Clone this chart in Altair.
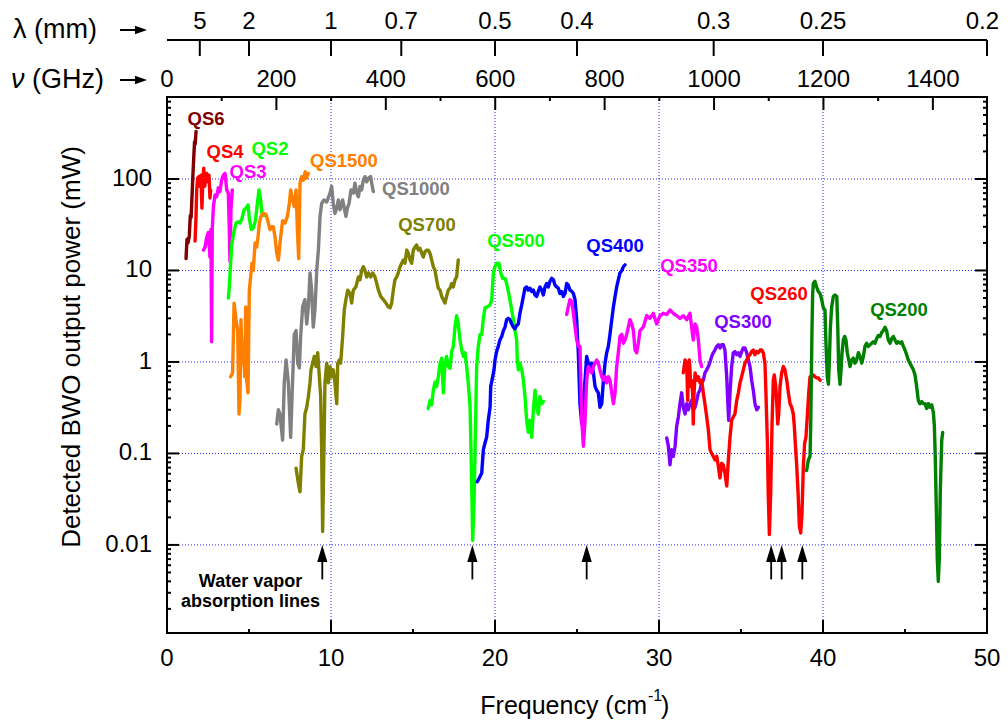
import altair as alt
import pandas as pd

FONT = "Liberation Sans"
W, H = 820, 536

# ---------------- data (x in cm^-1, y in mW) ----------------
qs6 = [(1.16, 13.5), (1.22, 22), (1.28, 20), (1.36, 24), (1.42, 40), (1.47, 38), (1.52, 62),
       (1.58, 110), (1.63, 170), (1.68, 255), (1.72, 240), (1.77, 330)]
qs4 = [(1.71, 21), (1.77, 39), (1.81, 76), (1.87, 102), (1.95, 106), (2.01, 83), (2.07, 110),
       (2.13, 48), (2.18, 90), (2.24, 131), (2.30, 83), (2.36, 102), (2.42, 115), (2.50, 93),
       (2.56, 110), (2.62, 62), (2.66, 76)]
qs3 = [(2.22, 16.7), (2.32, 18), (2.42, 23), (2.52, 26), (2.62, 14), (2.68, 28), (2.72, 1.66),
       (2.76, 28), (2.83, 50), (2.93, 67), (3.03, 64), (3.13, 80), (3.23, 73), (3.33, 97),
       (3.44, 110), (3.54, 115), (3.64, 76), (3.74, 70), (3.80, 28), (3.84, 12.5), (3.90, 46), (3.98, 76)]
qs2 = [(3.74, 5.0), (3.80, 6.6), (3.88, 12), (3.96, 20), (4.09, 27), (4.21, 33), (4.33, 34),
       (4.45, 33), (4.57, 37), (4.70, 46), (4.82, 48), (4.94, 52), (5.02, 37), (5.14, 28),
       (5.26, 29), (5.39, 35), (5.51, 54), (5.61, 76), (5.71, 59), (5.79, 42), (5.90, 40)]
qs1500 = [(3.88, 0.69), (4.00, 0.76), (4.09, 4.4), (4.21, 2.9), (4.31, 2.2), (4.39, 0.27),
          (4.45, 0.38), (4.51, 2.9), (4.59, 0.97), (4.65, 1.6), (4.74, 0.69), (4.80, 4.0),
          (4.86, 0.63), (4.94, 0.46), (5.02, 6.1), (5.10, 8.5), (5.18, 12), (5.26, 10),
          (5.37, 20), (5.47, 18), (5.55, 23), (5.63, 33), (5.73, 39), (5.87, 42), (6.04, 41),
          (6.18, 33), (6.28, 28), (6.38, 30), (6.48, 30), (6.59, 23), (6.69, 15.5), (6.79, 13),
          (6.89, 20), (7.05, 35), (7.20, 33), (7.34, 39), (7.46, 54), (7.54, 76), (7.66, 59),
          (7.76, 50), (7.87, 76), (7.95, 28), (8.03, 13.5), (8.11, 90), (8.21, 106), (8.31, 97),
          (8.43, 120), (8.50, 102), (8.62, 115)]
qs1000 = [(6.69, 0.21), (6.79, 0.30), (6.89, 0.27), (7.05, 0.14), (7.15, 0.59), (7.26, 1.05),
          (7.40, 0.59), (7.54, 0.15), (7.66, 0.63), (7.76, 2.0), (7.87, 2.2), (7.97, 0.97),
          (8.07, 0.86), (8.15, 1.9), (8.27, 4.0), (8.41, 4.8), (8.52, 2.6), (8.62, 4.0),
          (8.72, 9.4), (8.82, 6.1), (8.92, 2.4), (9.02, 3.7), (9.13, 10), (9.23, 16.7),
          (9.33, 39), (9.43, 54), (9.57, 59), (9.74, 56), (9.86, 64), (9.94, 70), (10.04, 83),
          (10.14, 54), (10.24, 42), (10.35, 48), (10.45, 59), (10.55, 46), (10.71, 59),
          (10.81, 48), (10.91, 39), (11.00, 48), (11.10, 54), (11.22, 76), (11.36, 70),
          (11.46, 90), (11.57, 70), (11.67, 64), (11.77, 83), (11.87, 76), (11.97, 97),
          (12.07, 106), (12.18, 93), (12.28, 102), (12.42, 106), (12.48, 90), (12.58, 73)]
qs700 = [(7.87, 0.069), (8.01, 0.047), (8.11, 0.038), (8.21, 0.093), (8.31, 0.11), (8.41, 0.27),
         (8.52, 0.32), (8.62, 0.42), (8.72, 0.59), (8.78, 0.82), (8.88, 0.97), (8.98, 1.15),
         (9.09, 0.89), (9.19, 1.26), (9.29, 0.69), (9.37, 0.42), (9.43, 0.11), (9.49, 0.014),
         (9.57, 0.11), (9.63, 0.59), (9.74, 0.97), (9.84, 0.59), (9.94, 0.89), (10.04, 0.69),
         (10.14, 0.82), (10.24, 0.59), (10.35, 0.35), (10.41, 0.97), (10.51, 1.05), (10.59, 0.97),
         (10.71, 1.9), (10.81, 3.7), (10.91, 4.8), (11.02, 6.1), (11.16, 5.6), (11.26, 4.4),
         (11.36, 6.1), (11.52, 6.6), (11.67, 8.5), (11.77, 7.9), (11.87, 10), (11.97, 11),
         (12.07, 10), (12.18, 8.5), (12.28, 9.4), (12.42, 8.5), (12.54, 9.4), (12.68, 8.5),
         (12.79, 7.2), (12.89, 6.1), (13.03, 5.2), (13.19, 4.8), (13.35, 4.4), (13.49, 4.0),
         (13.60, 3.9), (13.70, 4.4), (13.80, 6.1), (13.90, 7.9), (14.01, 8.5), (14.10, 9.4),
         (14.21, 11), (14.31, 12), (14.41, 13), (14.51, 12), (14.62, 16.7), (14.72, 15.4),
         (14.82, 13), (14.92, 12), (15.02, 16.7), (15.12, 18), (15.22, 19), (15.32, 16.7),
         (15.43, 17.5), (15.53, 15.4), (15.63, 14), (15.73, 16), (15.83, 16.7), (15.93, 16.7),
         (16.04, 15.4), (16.14, 13), (16.24, 11), (16.34, 10), (16.44, 7.9), (16.54, 6.4),
         (16.65, 6.1), (16.75, 5.2), (16.85, 4.8), (16.95, 4.4), (17.05, 5.2), (17.15, 6.1),
         (17.26, 6.4), (17.36, 7.2), (17.46, 6.6), (17.56, 7.9), (17.66, 8.5), (17.76, 13)]
qs500 = [(15.93, 0.31), (16.04, 0.38), (16.14, 0.34), (16.24, 0.49), (16.34, 0.60), (16.44, 0.54),
         (16.54, 0.69), (16.65, 0.97), (16.75, 1.1), (16.85, 0.46), (16.95, 0.97), (17.05, 1.15),
         (17.15, 0.89), (17.26, 0.85), (17.36, 1.3), (17.46, 1.48), (17.56, 2.4), (17.66, 3.2),
         (17.76, 2.6), (17.87, 1.74), (17.97, 1.35), (18.07, 1.15), (18.17, 1.26), (18.27, 0.89),
         (18.37, 0.59), (18.48, 0.32), (18.54, 0.10), (18.60, 0.029), (18.64, 0.0112),
         (18.72, 0.029), (18.80, 0.15), (18.88, 0.89), (18.98, 1.48), (19.09, 2.0), (19.19, 2.0),
         (19.29, 3.0), (19.39, 3.9), (19.53, 4.0), (19.70, 4.2), (19.80, 4.8), (19.90, 9.4),
         (20.00, 11), (20.10, 12), (20.24, 12), (20.35, 9.4), (20.47, 8.2), (20.61, 8.2),
         (20.71, 7.2), (20.81, 5.9), (20.91, 4.8), (21.02, 3.7), (21.12, 2.9), (21.22, 2.2),
         (21.32, 1.74), (21.36, 1.05), (21.42, 0.82), (21.52, 0.97), (21.63, 0.82), (21.73, 0.63),
         (21.83, 0.42), (21.93, 0.23), (22.03, 0.17), (22.13, 0.23), (22.24, 0.15), (22.34, 0.30),
         (22.44, 0.49), (22.54, 0.32), (22.64, 0.27), (22.74, 0.42), (22.85, 0.35), (22.95, 0.37)]
qs400 = [(18.92, 0.049), (19.09, 0.056), (19.19, 0.061), (19.29, 0.11), (19.39, 0.13), (19.49, 0.15),
         (19.59, 0.23), (19.70, 0.32), (19.74, 0.54), (19.86, 0.69), (19.94, 0.82), (20.00, 1.05),
         (20.10, 1.3), (20.20, 1.48), (20.30, 1.74), (20.41, 1.9), (20.51, 2.2), (20.61, 2.4),
         (20.71, 2.9), (20.81, 3.0), (20.91, 2.9), (21.02, 2.6), (21.12, 2.4), (21.22, 2.3),
         (21.32, 2.5), (21.42, 2.6), (21.52, 3.4), (21.63, 4.2), (21.73, 5.2), (21.83, 6.4),
         (21.93, 6.6), (22.03, 6.1), (22.13, 6.4), (22.24, 5.9), (22.34, 6.1), (22.44, 5.4),
         (22.54, 5.2), (22.64, 5.9), (22.74, 6.6), (22.85, 6.1), (22.95, 5.4), (23.05, 6.6),
         (23.15, 7.2), (23.25, 6.6), (23.35, 7.6), (23.46, 8.2), (23.56, 7.9), (23.66, 6.9),
         (23.76, 6.6), (23.86, 6.4), (23.96, 5.6), (24.07, 5.9), (24.17, 5.2), (24.27, 5.6),
         (24.37, 7.2), (24.47, 6.9), (24.57, 6.1), (24.68, 5.9), (24.78, 5.6), (24.88, 4.8),
         (24.98, 2.9), (25.08, 1.26), (25.18, 0.35), (25.29, 0.21), (25.39, 0.38), (25.49, 0.63),
         (25.59, 1.15), (25.69, 0.97), (25.79, 0.89), (25.90, 0.97), (26.00, 0.76), (26.10, 0.54),
         (26.20, 0.49), (26.30, 0.46), (26.40, 0.32), (26.51, 0.35), (26.61, 0.63), (26.71, 0.97),
         (26.81, 1.26), (26.91, 1.48), (27.01, 2.0), (27.12, 2.9), (27.22, 4.0), (27.32, 5.2),
         (27.42, 6.6), (27.52, 7.9), (27.62, 9.4), (27.73, 10), (27.83, 11), (27.93, 11.5)]
qs350 = [(24.37, 3.3), (24.47, 4.0), (24.57, 4.8), (24.68, 4.6), (24.78, 3.4), (24.88, 2.4),
         (24.98, 1.74), (25.08, 1.48), (25.18, 1.48), (25.29, 0.23), (25.39, 0.12), (25.49, 0.23),
         (25.59, 0.63), (25.69, 0.89), (25.79, 0.82), (25.90, 0.76), (26.00, 0.89), (26.10, 0.97),
         (26.20, 1.05), (26.30, 0.97), (26.40, 0.82), (26.51, 0.69), (26.61, 0.63), (26.71, 0.69),
         (26.81, 0.59), (26.91, 0.69), (27.01, 0.63), (27.12, 0.46), (27.22, 0.35), (27.32, 0.46),
         (27.42, 0.89), (27.52, 1.26), (27.62, 1.9), (27.73, 2.0), (27.83, 1.6), (27.93, 1.74),
         (28.03, 2.0), (28.13, 2.4), (28.23, 2.9), (28.34, 2.6), (28.44, 2.2), (28.54, 1.35),
         (28.64, 1.26), (28.74, 1.6), (28.84, 2.2), (29.04, 2.4), (29.25, 3.2), (29.45, 3.0),
         (29.65, 3.4), (29.86, 2.6), (30.06, 3.2), (30.26, 3.4), (30.47, 3.3), (30.67, 3.7),
         (30.87, 3.4), (31.08, 3.2), (31.28, 3.0), (31.48, 3.2), (31.69, 2.9), (31.89, 3.4),
         (31.99, 2.4), (32.09, 1.74), (32.20, 2.6), (32.30, 2.4), (32.40, 1.74), (32.50, 1.05),
         (32.60, 0.89)]
qs300 = [(30.47, 0.148), (30.57, 0.12), (30.67, 0.075), (30.77, 0.11), (30.87, 0.093), (30.98, 0.12),
         (31.08, 0.20), (31.18, 0.25), (31.28, 0.35), (31.38, 0.46), (31.48, 0.32), (31.59, 0.27),
         (31.69, 0.35), (31.79, 0.30), (31.89, 0.35), (31.99, 0.38), (32.09, 0.30), (32.20, 0.32),
         (32.30, 0.38), (32.40, 0.46), (32.50, 0.49), (32.60, 0.59), (32.70, 0.63), (32.80, 0.76),
         (32.91, 0.82), (33.01, 0.89), (33.11, 1.0), (33.21, 1.15), (33.31, 1.26), (33.41, 1.35),
         (33.52, 1.48), (33.62, 1.54), (33.72, 1.42), (33.82, 1.54), (33.92, 1.54), (34.02, 1.35),
         (34.13, 0.69), (34.19, 0.38), (34.25, 0.23), (34.33, 0.46), (34.43, 0.89), (34.53, 1.26),
         (34.63, 1.3), (34.74, 1.2), (34.84, 1.26), (34.94, 1.15), (35.04, 1.3), (35.14, 1.42),
         (35.24, 1.42), (35.35, 1.26), (35.45, 1.05), (35.55, 0.89), (35.65, 0.63), (35.75, 0.49),
         (35.85, 0.35), (35.96, 0.30), (36.06, 0.32)]
qs260 = [(31.48, 0.76), (31.59, 1.05), (31.69, 0.97), (31.75, 0.38), (31.79, 0.89), (31.85, 1.05),
         (31.89, 0.82), (31.93, 0.54), (31.99, 0.63), (32.05, 0.46), (32.09, 0.21), (32.13, 0.42),
         (32.20, 0.76), (32.30, 0.63), (32.40, 0.69), (32.50, 0.59), (32.60, 0.63), (32.70, 0.46),
         (32.80, 0.35), (32.91, 0.25), (33.01, 0.18), (33.11, 0.11), (33.21, 0.10), (33.31, 0.093),
         (33.41, 0.085), (33.52, 0.093), (33.62, 0.072), (33.72, 0.054), (33.82, 0.078),
         (33.92, 0.075), (34.02, 0.061), (34.13, 0.044), (34.23, 0.085), (34.33, 0.15),
         (34.43, 0.23), (34.53, 0.25), (34.63, 0.27), (34.74, 0.38), (34.84, 0.46), (34.94, 0.59),
         (35.04, 0.69), (35.14, 0.82), (35.24, 0.97), (35.35, 1.05), (35.45, 1.15), (35.55, 1.2),
         (35.65, 1.3), (35.75, 1.35), (35.85, 1.2), (35.96, 1.3), (36.06, 1.26), (36.16, 1.35),
         (36.26, 1.35), (36.36, 1.26), (36.46, 0.97), (36.52, 0.46), (36.61, 0.13), (36.66, 0.037),
         (36.73, 0.013), (36.81, 0.037), (36.89, 0.20), (36.97, 0.63), (37.03, 0.72), (37.12, 0.54),
         (37.18, 0.35), (37.24, 0.21), (37.30, 0.27), (37.38, 0.54), (37.48, 0.76), (37.58, 0.89),
         (37.68, 0.82), (37.79, 0.63), (37.89, 0.46), (37.99, 0.35), (38.09, 0.32), (38.19, 0.27),
         (38.25, 0.20), (38.31, 0.13), (38.40, 0.072), (38.48, 0.037), (38.56, 0.016),
         (38.64, 0.0135), (38.72, 0.022), (38.80, 0.072), (38.88, 0.13), (38.96, 0.15),
         (39.04, 0.25), (39.13, 0.46), (39.21, 0.69), (39.31, 0.69), (39.41, 0.72), (39.51, 0.69),
         (39.61, 0.67), (39.71, 0.67), (39.82, 0.63)]
qs200 = [(39.00, 0.065), (39.11, 0.085), (39.21, 0.093), (39.25, 0.20), (39.29, 0.69), (39.33, 2.4),
         (39.37, 5.6), (39.41, 7.2), (39.51, 7.6), (39.61, 6.6), (39.71, 5.9), (39.82, 5.6),
         (39.92, 4.8), (40.02, 3.9), (40.12, 3.7), (40.18, 1.6), (40.26, 0.69), (40.33, 0.57),
         (40.39, 1.05), (40.45, 2.4), (40.53, 4.0), (40.63, 5.2), (40.73, 5.4), (40.84, 5.2),
         (40.90, 2.4), (40.96, 0.82), (41.04, 0.57), (41.10, 0.82), (41.16, 1.26), (41.24, 1.74),
         (41.32, 1.9), (41.40, 1.74), (41.48, 1.26), (41.57, 1.05), (41.65, 0.89), (41.75, 1.05),
         (41.85, 1.1), (41.95, 0.97), (42.05, 1.05), (42.16, 1.26), (42.26, 1.15), (42.36, 0.97),
         (42.46, 1.15), (42.56, 1.48), (42.66, 1.6), (42.76, 1.48), (42.87, 1.54), (42.97, 1.6),
         (43.07, 1.66), (43.17, 1.6), (43.27, 1.8), (43.37, 1.95), (43.48, 1.9), (43.58, 2.1),
         (43.68, 2.2), (43.78, 2.4), (43.88, 2.2), (43.98, 1.74), (44.09, 1.6), (44.19, 1.8),
         (44.29, 1.9), (44.39, 1.74), (44.49, 1.6), (44.59, 1.66), (44.70, 1.6), (44.80, 1.66),
         (44.90, 1.48), (45.00, 1.35), (45.10, 1.2), (45.20, 1.05), (45.30, 0.97), (45.41, 0.89),
         (45.51, 0.82), (45.61, 0.72), (45.71, 0.54), (45.81, 0.38), (45.91, 0.35), (46.02, 0.37),
         (46.12, 0.35), (46.22, 0.35), (46.32, 0.31), (46.42, 0.35), (46.52, 0.32), (46.63, 0.34),
         (46.73, 0.28), (46.79, 0.20), (46.85, 0.085), (46.91, 0.024), (46.97, 0.0069),
         (47.03, 0.004), (47.09, 0.0069), (47.15, 0.037), (47.24, 0.14), (47.30, 0.17)]

series_names = ["QS6", "QS4", "QS3", "QS2", "QS1500", "QS1000", "QS700", "QS500",
                "QS400", "QS350", "QS300", "QS260", "QS200"]
series_data = [qs6, qs4, qs3, qs2, qs1500, qs1000, qs700, qs500,
               qs400, qs350, qs300, qs260, qs200]

# label anchor points (cm^-1, mW)
label_x = [2.38, 3.54, 4.94, 6.28, 10.79, 15.18, 15.85, 21.28, 27.32, 31.83, 35.12, 37.32, 44.63]
label_y = [453, 197, 119, 213, 157, 78, 31.4, 21, 18.5, 11.2, 2.75, 5.5, 3.7]

# water vapour absorption lines (cm^-1)
water_lines = [9.47, 18.62, 25.59, 36.84, 37.48, 38.74]

# axis ticks and labels
x_major = [0, 10, 20, 30, 40, 50]
x_labels = ["0", "10", "20", "30", "40", "50"]
x_minor = [5, 15, 25, 35, 45]
x_grid = [10, 20, 30, 40]
y_major = [0.01, 0.1, 1, 10, 100]
y_labels = ["0.01", "0.1", "1", "10", "100"]
nu_major = [0, 200, 400, 600, 800, 1000, 1200, 1400]
nu_minor = [100, 300, 500, 700, 900, 1100, 1300]
lam_ticks = [5, 2, 1, 0.7, 0.5, 0.4, 0.3, 0.25, 0.2]
lam_labels = ["5", "2", "1", "0.7", "0.5", "0.4", "0.3", "0.25", "0.2"]

# ---------------- styles ----------------
series_colors = ["#800000", "#ff0000", "#ff00ff", "#00ff00", "#ff8000", "#808080", "#808000",
                 "#00ff00", "#0000ff", "#ff00ff", "#8000ff", "#ff0000", "#008000"]
Y_LO, Y_HI = 0.00109, 787
GHZ_PER_CM = 29.9792458

rows = []
for name, pts in zip(series_names, series_data):
    for i, (a, b) in enumerate(pts):
        rows.append({"series": name, "x": a, "y": b, "i": i})
df = pd.DataFrame(rows)

XS = alt.Scale(domain=[0, 50], nice=False, zero=False)
YS = alt.Scale(type="log", domain=[Y_LO, Y_HI], nice=False)


def xq(field="x"):
    return alt.X(f"{field}:Q", scale=XS, axis=None)


def yq(field="y"):
    return alt.Y(f"{field}:Q", scale=YS, axis=None)


one = pd.DataFrame({"d": [0]})

layers = []

# grid
layers.append(alt.Chart(pd.DataFrame({"x": x_grid})).mark_rule(
    color="#0000ff", strokeWidth=1, strokeDash=[1, 2], opacity=0.85).encode(x=xq()))
layers.append(alt.Chart(pd.DataFrame({"y": y_major})).mark_rule(
    color="#0000ff", strokeWidth=1, strokeDash=[1, 2], opacity=0.85).encode(y=yq()))

# data lines
lines = alt.Chart(df).mark_line(strokeWidth=3.4, strokeJoin="round", strokeCap="round").encode(
    x=xq(), y=yq(),
    color=alt.Color("series:N", scale=alt.Scale(domain=series_names, range=series_colors), legend=None),
    detail="series:N",
    order="i:Q",
)
layers.append(lines)

# series labels
lab_df = pd.DataFrame({"name": series_names, "x": label_x, "y": label_y, "c": series_colors})
layers.append(alt.Chart(lab_df).mark_text(font=FONT, fontSize=18.5, fontWeight="bold").encode(
    x=xq(), y=yq(), text="name:N", color=alt.Color("c:N", scale=None)))

# water vapour arrows
wl = pd.DataFrame({"x": water_lines, "y0": [0.0042] * len(water_lines), "y1": [0.0068] * len(water_lines),
                   "tip": [0.01] * len(water_lines)})
layers.append(alt.Chart(wl).mark_rule(color="black", strokeWidth=1.8).encode(
    x=xq(), y=yq("y0"), y2="y1:Q"))
layers.append(alt.Chart(wl).mark_point(
    shape="M0,0L0.6,2L-0.6,2Z", size=289, filled=True, color="black", opacity=1, strokeWidth=0).encode(
    x=xq(), y=yq("tip")))
for t, yy in (("Water vapor", 485), ("absorption lines", 505)):
    layers.append(alt.Chart(pd.DataFrame({"t": [t]})).mark_text(
        font=FONT, fontSize=18, fontWeight="bold", align="center", baseline="middle").encode(
        x=alt.value(83.5), y=alt.value(yy), text="t:N"))

# inward ticks: bottom / top(nu) / left / right
layers.append(alt.Chart(pd.DataFrame({"x": x_major})).mark_rule(color="black", strokeWidth=2).encode(
    x=xq(), y=alt.value(H), y2=alt.value(H - 13)))
layers.append(alt.Chart(pd.DataFrame({"x": x_minor})).mark_rule(color="black", strokeWidth=2).encode(
    x=xq(), y=alt.value(H), y2=alt.value(H - 4)))
nu_maj_df = pd.DataFrame({"nu": nu_major, "x": [v / GHZ_PER_CM for v in nu_major]})
nu_min_df = pd.DataFrame({"nu": nu_minor, "x": [v / GHZ_PER_CM for v in nu_minor]})
layers.append(alt.Chart(nu_maj_df).mark_rule(color="black", strokeWidth=2).encode(
    x=xq(), y=alt.value(0), y2=alt.value(13)))
layers.append(alt.Chart(nu_min_df).mark_rule(color="black", strokeWidth=2).encode(
    x=xq(), y=alt.value(0), y2=alt.value(4)))
y_minor = [m * 10.0 ** e for e in range(-3, 3) for m in range(2, 10) if Y_LO <= m * 10.0 ** e <= Y_HI]
for x0, x1, vals in [(0, 12, y_major), (0, 4, y_minor), (W, W - 12, y_major), (W, W - 4, y_minor)]:
    layers.append(alt.Chart(pd.DataFrame({"y": vals})).mark_rule(color="black", strokeWidth=2).encode(
        y=yq(), x=alt.value(x0), x2=alt.value(x1)))

# frame
for enc in [dict(x=alt.value(0), x2=alt.value(W), y=alt.value(0)),
            dict(x=alt.value(0), x2=alt.value(W), y=alt.value(H)),
            dict(y=alt.value(0), y2=alt.value(H), x=alt.value(0)),
            dict(y=alt.value(0), y2=alt.value(H), x=alt.value(W))]:
    layers.append(alt.Chart(one).mark_rule(color="black", strokeWidth=2, strokeCap="square").encode(**enc))

# tick labels bottom and left
layers.append(alt.Chart(pd.DataFrame({"x": x_major, "lab": x_labels})).mark_text(
    font=FONT, fontSize=24, baseline="middle", align="center").encode(
    x=xq(), y=alt.value(H + 26), text="lab:N"))
layers.append(alt.Chart(pd.DataFrame({"y": y_major, "lab": y_labels})).mark_text(
    font=FONT, fontSize=24, baseline="middle", align="right").encode(
    y=yq(), x=alt.value(-15), text="lab:N"))

# nu labels (top)
layers.append(alt.Chart(nu_maj_df).mark_text(font=FONT, fontSize=24, baseline="middle").encode(
    x=xq(), y=alt.value(-17), text="nu:N"))

# lambda axis
lam_df = pd.DataFrame({"lab": lam_labels, "x": [10.0 / v for v in lam_ticks]})
layers.append(alt.Chart(one).mark_rule(color="black", strokeWidth=2).encode(
    x=alt.value(0), x2=alt.value(W), y=alt.value(-57)))
layers.append(alt.Chart(lam_df).mark_rule(color="black", strokeWidth=2).encode(
    x=xq(), y=alt.value(-57), y2=alt.value(-41)))
layers.append(alt.Chart(lam_df.iloc[:-1]).mark_text(font=FONT, fontSize=24, baseline="middle").encode(
    x=xq(), y=alt.value(-75), text="lab:N"))
layers.append(alt.Chart(lam_df.iloc[-1:]).mark_text(
    font=FONT, fontSize=24, baseline="middle", align="right", dx=12).encode(
    x=xq(), y=alt.value(-75), text="lab:N"))


# left-side row labels with arrows
def txt(t, x, y, **kw):
    base = dict(font=FONT, fontSize=27, align="left", baseline="middle", color="black")
    base.update(kw)
    return alt.Chart(pd.DataFrame({"t": [t]})).mark_text(**base).encode(
        x=alt.value(x), y=alt.value(y), text="t:N")


layers.append(txt("λ (mm)", -154, -67))
layers.append(txt("ν", -156, -17, fontStyle="italic"))
layers.append(txt("(GHz)", -135, -17))
for yy in (-67, -17):
    layers.append(alt.Chart(one).mark_rule(color="black", strokeWidth=2).encode(
        x=alt.value(-47), x2=alt.value(-30), y=alt.value(yy)))
    layers.append(alt.Chart(one).mark_point(
        shape="M0,0L-2,-0.7L-2,0.7Z", size=144, filled=True, color="black", opacity=1, strokeWidth=0).encode(
        x=alt.value(-20), y=alt.value(yy)))

# axis titles
layers.append(txt("Frequency (cm", 480, 609, align="right", fontSize=25))
layers.append(txt("-1", 481, 599, fontSize=16))
layers.append(txt(")", 494, 609, fontSize=25))
layers.append(txt("Detected BWO output power (mW)", -95, 250, align="center", angle=270, fontSize=26))

chart = alt.layer(*layers).properties(
    width=W, height=H,
    padding={"left": 159, "top": 89, "right": 13, "bottom": 87},
    autosize=alt.AutoSizeParams(type="none"),
).configure_view(stroke=None)

chart.save("out.html", embed_options={"renderer": "svg", "actions": False})
